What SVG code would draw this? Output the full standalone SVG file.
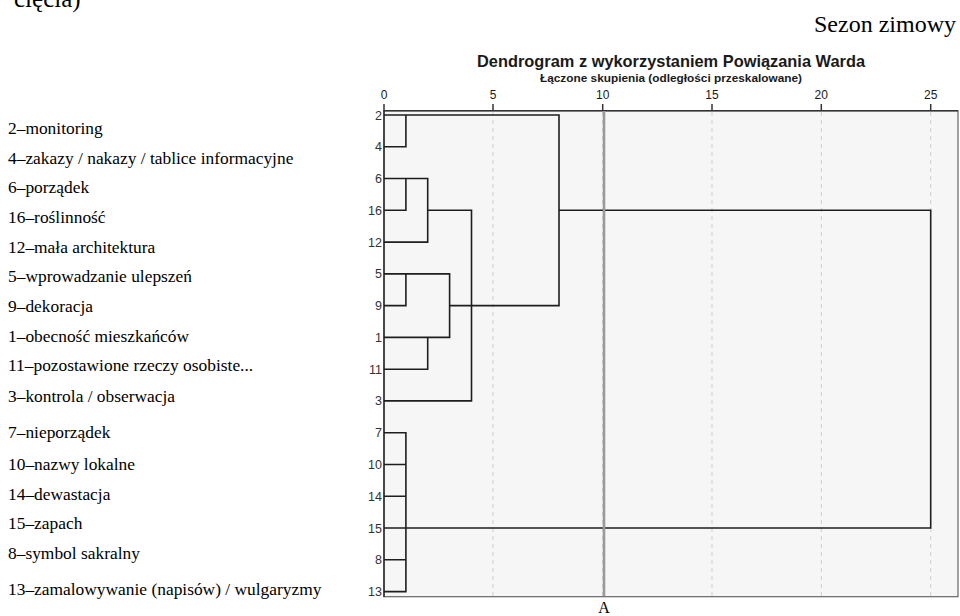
<svg xmlns="http://www.w3.org/2000/svg" width="960" height="616" viewBox="0 0 960 616">
<style>
.serif{font-family:"Liberation Serif","Times New Roman",serif;fill:#000}
.lab{font-size:17.4px}
.sans{font-family:"Liberation Sans",Arial,sans-serif;fill:#1a1a1a}
.row{font-size:12.5px;text-anchor:end;fill:#333}
.tick{font-size:12px;text-anchor:middle}
.link{fill:none;stroke:#1e1e1e;stroke-width:1.6}
.grid{stroke:#cfcfcf;stroke-width:1;stroke-dasharray:4 4}
</style>
<rect width="960" height="616" fill="#fff"/>
<text class="serif" x="14" y="7" font-size="25">cięcia)</text>
<text class="serif" x="956" y="32" font-size="24" text-anchor="end">Sezon zimowy</text>

<g id="chart-title">
<text class="sans" x="671" y="66.5" font-size="16.5" font-weight="bold" text-anchor="middle" textLength="388" lengthAdjust="spacingAndGlyphs" fill="#111">Dendrogram z wykorzystaniem Powiązania Warda</text>
<text class="sans" x="671" y="82" font-size="11" font-weight="bold" text-anchor="middle" textLength="262" lengthAdjust="spacingAndGlyphs">Łączone skupienia (odległości przeskalowane)</text>
</g>

<g id="axis">
<rect x="384" y="110.7" width="574" height="486" fill="#f6f6f6" stroke="#666" stroke-width="1.2"/>
<line class="grid" x1="493" y1="112" x2="493" y2="596"/>
<line class="grid" x1="602.7" y1="112" x2="602.7" y2="596"/>
<line class="grid" x1="712" y1="112" x2="712" y2="596"/>
<line class="grid" x1="821.3" y1="112" x2="821.3" y2="596"/>
<line class="grid" x1="930.7" y1="112" x2="930.7" y2="596"/>
<line x1="384" y1="110.7" x2="958" y2="110.7" stroke="#333" stroke-width="1.5"/>
<line x1="384" y1="110" x2="384" y2="597" stroke="#333" stroke-width="1.6"/>
<g stroke="#333" stroke-width="1.5">
<line x1="384" y1="104" x2="384" y2="111"/>
<line x1="493" y1="104" x2="493" y2="111"/>
<line x1="602.7" y1="104" x2="602.7" y2="111"/>
<line x1="712" y1="104" x2="712" y2="111"/>
<line x1="821.3" y1="104" x2="821.3" y2="111"/>
<line x1="930.7" y1="104" x2="930.7" y2="111"/>
</g>
<text class="sans tick" x="384" y="99">0</text>
<text class="sans tick" x="493" y="99">5</text>
<text class="sans tick" x="602.7" y="99">10</text>
<text class="sans tick" x="712" y="99">15</text>
<text class="sans tick" x="821.3" y="99">20</text>
<text class="sans tick" x="930.7" y="99">25</text>
</g>

<g id="connectors">
<path class="link" d="M384 115 H559 V305.6 H449.6"/>
<path class="link" d="M405.9 115 V146.8 H384"/>
<path class="link" d="M384 178.5 H427.7 V242.1 H384"/>
<path class="link" d="M405.9 178.5 V210.3 H384"/>
<path class="link" d="M427.7 210.3 H471.5 V400.9 H384"/>
<path class="link" d="M384 273.9 H449.6 V337.4 H384"/>
<path class="link" d="M405.9 273.9 V305.6 H384"/>
<path class="link" d="M427.7 337.4 V369.2 H384"/>
<path class="link" d="M559 210.3 H930.7 V528 H384"/>
<path class="link" d="M384 432.7 H405.9 V591.6 H384 M384 464.5 H405.9 M384 496.2 H405.9 M384 559.8 H405.9"/>
</g>

<g id="cut-line">
<line x1="604" y1="111" x2="604" y2="596" stroke="#9a9a9a" stroke-width="2.6"/>
<text class="serif" x="604" y="613" font-size="16" text-anchor="middle">A</text>
</g>

<g id="leaf-2"><text class="sans row" x="382" y="119.5">2</text></g>
<g id="leaf-4"><text class="sans row" x="382" y="151.3">4</text></g>
<g id="leaf-6"><text class="sans row" x="382" y="183">6</text></g>
<g id="leaf-16"><text class="sans row" x="382" y="214.8">16</text></g>
<g id="leaf-12"><text class="sans row" x="382" y="246.6">12</text></g>
<g id="leaf-5"><text class="sans row" x="382" y="278.4">5</text></g>
<g id="leaf-9"><text class="sans row" x="382" y="310.1">9</text></g>
<g id="leaf-1"><text class="sans row" x="382" y="341.9">1</text></g>
<g id="leaf-11"><text class="sans row" x="382" y="373.7">11</text></g>
<g id="leaf-3"><text class="sans row" x="382" y="405.4">3</text></g>
<g id="leaf-7"><text class="sans row" x="382" y="437.2">7</text></g>
<g id="leaf-10"><text class="sans row" x="382" y="469">10</text></g>
<g id="leaf-14"><text class="sans row" x="382" y="500.7">14</text></g>
<g id="leaf-15"><text class="sans row" x="382" y="532.5">15</text></g>
<g id="leaf-8"><text class="sans row" x="382" y="564.3">8</text></g>
<g id="leaf-13"><text class="sans row" x="382" y="596">13</text></g>

<g id="legend">
<text class="serif lab" x="8" y="134">2–monitoring</text>
<text class="serif lab" x="8" y="163.5">4–zakazy / nakazy / tablice informacyjne</text>
<text class="serif lab" x="8" y="193">6–porządek</text>
<text class="serif lab" x="8" y="223">16–roślinność</text>
<text class="serif lab" x="8" y="252.5">12–mała architektura</text>
<text class="serif lab" x="8" y="282">5–wprowadzanie ulepszeń</text>
<text class="serif lab" x="8" y="312">9–dekoracja</text>
<text class="serif lab" x="8" y="341.5">1–obecność mieszkańców</text>
<text class="serif lab" x="8" y="371">11–pozostawione rzeczy osobiste...</text>
<text class="serif lab" x="8" y="402">3–kontrola / obserwacja</text>
<text class="serif lab" x="8" y="438">7–nieporządek</text>
<text class="serif lab" x="8" y="470">10–nazwy lokalne</text>
<text class="serif lab" x="8" y="500">14–dewastacja</text>
<text class="serif lab" x="8" y="529">15–zapach</text>
<text class="serif lab" x="8" y="559">8–symbol sakralny</text>
<text class="serif lab" x="8" y="595">13–zamalowywanie (napisów) / wulgaryzmy</text>
</g>
</svg>
